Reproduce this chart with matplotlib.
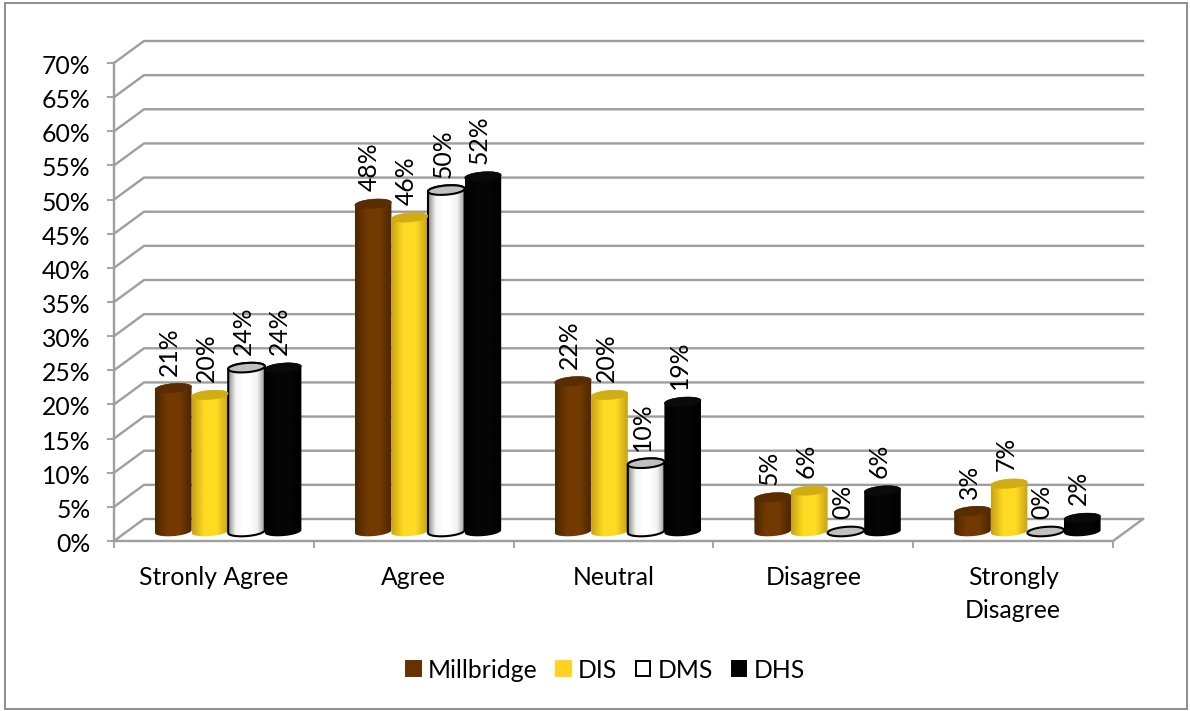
import numpy as np
import matplotlib
matplotlib.use("Agg")
import matplotlib.pyplot as plt
from matplotlib.colors import LinearSegmentedColormap
from matplotlib.patches import PathPatch, Polygon, Rectangle
from matplotlib.path import Path
from matplotlib.transforms import ScaledTranslation

plt.rcParams['font.family'] = ['Lato', 'DejaVu Sans']

categories = ["Stronly Agree", "Agree", "Neutral", "Disagree", "Strongly\nDisagree"]
series_names = ["Millbridge", "DIS", "DMS", "DHS"]
millbridge = [21, 48, 22, 5, 3]
dis = [20, 46, 20, 6, 7]
dms = [24, 50, 10, 0, 0]
dhs = [24, 52, 19, 6, 2]
y_ticks = list(range(0, 75, 5))

W, H = 1190, 711
AX_L, AX_R, AX_T, AX_B = 114, 1113, 63, 541
GRID = "#9E9E9E"
FONT = 17.8

fig = plt.figure(figsize=(W / 100, H / 100), dpi=100, facecolor="white")
fig.add_artist(Rectangle((5 / W, 1 - 709 / H), 1182 / W, 706 / H, transform=fig.transFigure,
                         facecolor="none", edgecolor="#868686", linewidth=1.3))
ax = fig.add_axes([AX_L / W, 1 - AX_B / H, (AX_R - AX_L) / W, (AX_B - AX_T) / H])
ax.set_facecolor("none")

n_cat = len(categories)
ax.set_xlim(0, n_cat)
ax.set_ylim(0, 70)
px_x = (AX_R - AX_L) / n_cat      # pixels per category
px_y = (AX_B - AX_T) / 70         # pixels per percentage point

# Oblique depth of the 3-D box, in data units
depth_x = 30 / px_x
depth_y = 22 / px_y

# Back wall and side-wall lines
for v in y_ticks:
    ax.plot([0, depth_x, n_cat + depth_x], [v, v + depth_y, v + depth_y],
            color=GRID, lw=1.7, clip_on=False, zorder=1, solid_joinstyle="miter")
ax.plot([n_cat, n_cat + depth_x], [0, depth_y], color=GRID, lw=1.7, clip_on=False, zorder=1)

for side in ("top", "right"):
    ax.spines[side].set_visible(False)
for side in ("left", "bottom"):
    ax.spines[side].set_color(GRID)
    ax.spines[side].set_linewidth(1.7)

ax.set_yticks(y_ticks)
ax.set_yticklabels([f"{v}%" for v in y_ticks], va="center_baseline")
ax.set_xticks(np.arange(n_cat + 1))
ax.set_xticklabels([])
ax.set_xticks(np.arange(n_cat) + 0.5, minor=True)
ax.set_xticklabels(categories, minor=True, linespacing=1.5)
ax.tick_params(axis="y", which="major", length=5, width=1.3, color=GRID, labelsize=FONT, pad=12)
ax.tick_params(axis="x", which="major", length=5, width=1.3, color=GRID)
ax.tick_params(axis="x", which="minor", length=0, labelsize=FONT, pad=18)

# Nudge the value labels down so they centre on their tick marks
nudge = ScaledTranslation(0, -1.5 / 100, fig.dpi_scale_trans)
for lab in ax.get_yticklabels():
    lab.set_transform(lab.get_transform() + nudge)

# Cylinder geometry, in data units
bar_w = 36.6 / px_x
base_y = 9.5 / px_y
group_left = 41 / px_x
ell_h = 4.6 / px_y
tilt = 1.4 / px_y


def gradient(edge, mid):
    return LinearSegmentedColormap.from_list("", [edge, mid, mid, edge])


styles = [
    dict(cmap=gradient("#4C2600", "#733A00"), cap="#5A2D00", edge=None),
    dict(cmap=gradient("#C9A214", "#FFDB24"), cap="#D2AC14", edge=None),
    dict(cmap=LinearSegmentedColormap.from_list("", ["#8C8C8C", "#F2F2F2", "#FFFFFF", "#FFFFFF", "#F2F2F2", "#9A9A9A"]),
         cap="#C0C0C0", edge="black"),
    dict(cmap=gradient("#000000", "#050505"), cap="#0A0A0A", edge=None),
]
values = [millbridge, dis, dms, dhs]
ramp = np.linspace(0, 1, 64).reshape(1, -1)


def ellipse_arc(cx, cy, t):
    return np.column_stack([cx + bar_w / 2 * np.cos(t),
                            cy + ell_h * np.sin(t) + tilt * np.cos(t)])


# White cylinders go last so that their outline sits on top of the neighbours
for s in (0, 1, 3, 2):
    st = styles[s]
    for c in range(n_cat):
        val = values[s][c]
        cx = c + group_left + (s + 0.5) * bar_w
        top = base_y + val
        if val > 0:
            lower = ellipse_arc(cx, base_y, np.linspace(np.pi, 2 * np.pi, 40))
            upper = ellipse_arc(cx, top, np.linspace(0, np.pi, 40))
            outline = np.vstack([lower, upper, lower[:1]])
            body = Path(outline, closed=True)
            im = ax.imshow(ramp, cmap=st["cmap"], aspect="auto", zorder=3 + s * 0.1,
                           extent=(cx - bar_w / 2, cx + bar_w / 2, base_y - 2, top + 2))
            im.set_clip_path(body, transform=ax.transData)
            if st["edge"]:
                ax.add_patch(PathPatch(body, facecolor="none", edgecolor=st["edge"],
                                       lw=1.5, zorder=3.5))
        cap = ellipse_arc(cx, top, np.linspace(0, 2 * np.pi, 80))
        ax.add_patch(Polygon(cap, closed=True, facecolor=st["cap"], edgecolor=st["edge"] or st["cap"],
                             lw=1.5 if st["edge"] else 0.3, zorder=3.6))
        ax.annotate(f"{val}%", xy=(cx, top), xytext=(-2.5, 9), textcoords="offset points",
                    rotation=90, ha="center", va="bottom", fontsize=FONT, color="black",
                    annotation_clip=False, zorder=5)

ax.set_xlim(0, n_cat)
ax.set_ylim(0, 70)

handles = [Rectangle((0, 0), 1, 1, facecolor=c, edgecolor=e, lw=1.4)
           for c, e in [("#663300", "#663300"), ("#FFD320", "#FFD320"),
                        ("white", "black"), ("black", "black")]]
fig.legend(handles, series_names, ncol=4, loc="center", bbox_to_anchor=(605.5 / W, 1 - 670 / H),
           frameon=False, fontsize=FONT, handlelength=0.58, handleheight=0.58,
           handletextpad=0.3, columnspacing=0.75, borderpad=0)

fig.savefig("out.png", dpi=100)
